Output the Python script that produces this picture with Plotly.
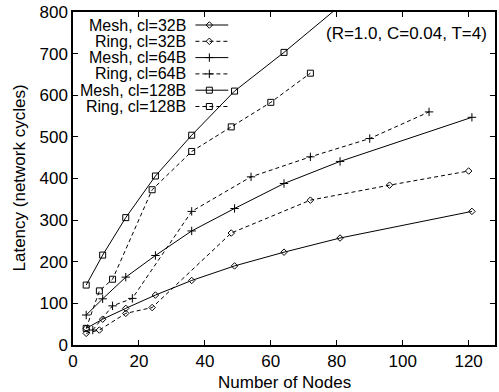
import plotly.graph_objects as go

# ---- data ----
mesh_x = [4, 9, 16, 25, 36, 49, 64, 81, 121]
mesh32 = [40, 62, 88, 120, 155, 190, 223, 257, 321]
mesh64 = [72, 111, 163, 215, 274, 328, 388, 441, 547]
mesh128_x = [4, 9, 16, 25, 36, 49, 64, 81]
mesh128 = [144, 216, 306, 406, 504, 610, 703, 815]

ring32_x = [4, 8, 16, 24, 48, 72, 96, 120]
ring32 = [28, 36, 76, 90, 269, 348, 384, 418]
ring64_x = [6, 12, 18, 36, 54, 72, 90, 108]
ring64 = [36, 94, 112, 321, 404, 452, 496, 560]
ring128_x = [4, 8, 12, 24, 36, 48, 60, 72]
ring128 = [40, 130, 158, 373, 465, 524, 583, 653]

names = ["Mesh, cl=32B", "Ring, cl=32B", "Mesh, cl=64B",
         "Ring, cl=64B", "Mesh, cl=128B", "Ring, cl=128B"]
x_ticks = [0, 20, 40, 60, 80, 100, 120]
y_ticks = [0, 100, 200, 300, 400, 500, 600, 700, 800]

FONT = "Liberation Sans, Arial, sans-serif"
FS = 17
FS_KEY = 16
DASH = "4px,3px"

series = [
    (mesh_x, mesh32, "diamond-open", "solid", 5),
    (ring32_x, ring32, "diamond-open", DASH, 5),
    (mesh_x, mesh64, "cross-thin-open", "solid", 6),
    (ring64_x, ring64, "cross-thin-open", DASH, 6),
    (mesh128_x, mesh128, "square-open", "solid", 6),
    (ring128_x, ring128, "square-open", DASH, 6),
]

fig = go.Figure()
for (xs, ys, sym, dash, msz), nm in zip(series, names):
    fig.add_trace(go.Scatter(
        x=xs, y=ys, name=nm, mode="lines+markers",
        line=dict(color="black", width=1, dash=dash),
        marker=dict(symbol=sym, size=msz, color="black",
                    line=dict(color="black", width=1)),
        showlegend=False, cliponaxis=True,
    ))

# ---- gnuplot-style key (text left of sample), drawn on an overlay pixel axis ----
L, R, T, B = 73, 497, 12, 345
row_y = [25, 41.3, 57.6, 73.9, 90.2, 106.5]
for (xs, ys, sym, dash, msz), nm, ry in zip(series, names, row_y):
    fig.add_trace(go.Scatter(
        x=[196, 229], y=[ry, ry], mode="lines", xaxis="x2", yaxis="y2",
        line=dict(color="black", width=1, dash=dash), showlegend=False,
        hoverinfo="skip"))
    fig.add_trace(go.Scatter(
        x=[210], y=[ry], mode="markers", xaxis="x2", yaxis="y2",
        marker=dict(symbol=sym, size=msz, color="black",
                    line=dict(color="black", width=1)),
        showlegend=False, hoverinfo="skip"))
    fig.add_annotation(x=189, y=ry, xref="x2", yref="y2", text=nm,
                       showarrow=False, xanchor="right", yanchor="middle",
                       font=dict(family=FONT, size=FS_KEY, color="black"))

fig.add_annotation(x=491, y=33, xref="x2", yref="y2",
                   text="(R=1.0, C=0.04, T=4)", showarrow=False,
                   xanchor="right", yanchor="middle",
                   font=dict(family=FONT, size=FS, color="black"))

axis_common = dict(
    showgrid=False, zeroline=False, showline=True, linecolor="black",
    linewidth=1.5, mirror="allticks", ticks="inside", ticklen=5,
    tickcolor="black", tickwidth=1,
    tickfont=dict(family=FONT, size=FS, color="black"),
)

fig.update_layout(
    width=499, height=392,
    margin=dict(l=L, r=499 - R, t=T, b=392 - B),
    paper_bgcolor="white", plot_bgcolor="white",
    xaxis=dict(range=[0, 128], tickvals=x_ticks, **axis_common),
    yaxis=dict(range=[0, 800], tickvals=y_ticks, **axis_common),
    xaxis2=dict(range=[L, R], overlaying="x", visible=False, fixedrange=True),
    yaxis2=dict(range=[B, T], overlaying="y", visible=False, fixedrange=True),
    font=dict(family=FONT, size=FS, color="black"),
)

fig.add_annotation(x=0.5, y=0, xref="paper", yref="paper", yshift=-37,
                   text="Number of Nodes", showarrow=False,
                   xanchor="center", yanchor="middle",
                   font=dict(family=FONT, size=FS, color="black"))
fig.add_annotation(x=0, y=0.5, xref="paper", yref="paper", xshift=-54,
                   text="Latency (network cycles)", showarrow=False,
                   textangle=-90, xanchor="center", yanchor="middle",
                   font=dict(family=FONT, size=FS, color="black"))

fig.write_html("out.html")
